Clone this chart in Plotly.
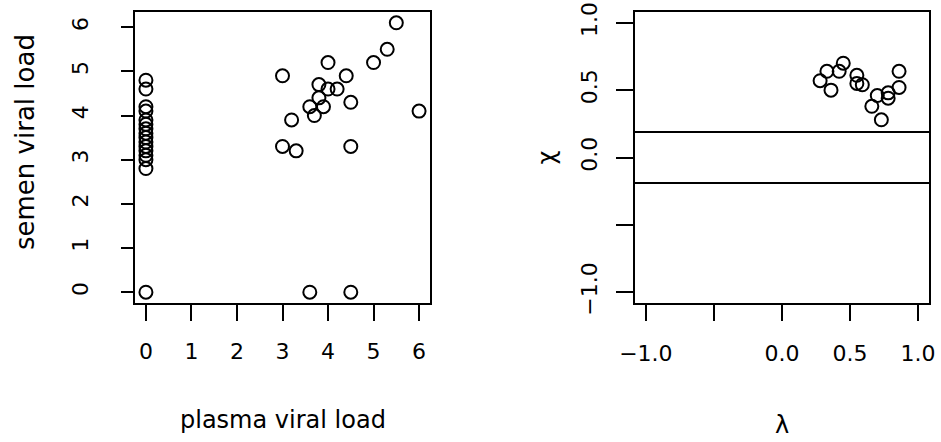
import plotly.graph_objects as go

# Left panel: plasma vs semen viral load (log10 copies)
plasma = [0, 0, 0, 0, 0, 0, 0, 0, 0, 0, 0, 0, 0, 0, 0, 0,
          5.5, 5.3, 5.0, 4.0, 3.0, 4.4, 3.8, 4.0, 4.2, 3.8, 4.5, 3.6, 3.9,
          3.7, 6.0, 3.2, 3.0, 3.3, 4.5, 3.6, 4.5]
semen = [4.8, 4.6, 4.2, 4.1, 3.9, 3.8, 3.7, 3.6, 3.5, 3.4, 3.3, 3.2, 3.1, 3.0, 2.8, 0.0,
         6.1, 5.5, 5.2, 5.2, 4.9, 4.9, 4.7, 4.6, 4.6, 4.4, 4.3, 4.2, 4.2,
         4.0, 4.1, 3.9, 3.3, 3.2, 3.3, 0.0, 0.0]

# Right panel: chi-plot (lambda, chi) with reference band
lam = [0.45, 0.33, 0.42, 0.28, 0.36, 0.55, 0.55, 0.59, 0.86, 0.86,
       0.70, 0.78, 0.78, 0.66, 0.73]
chi = [0.70, 0.64, 0.64, 0.57, 0.50, 0.61, 0.55, 0.54, 0.64, 0.52,
       0.46, 0.48, 0.44, 0.38, 0.28]
chi_band = [0.19, -0.19]

left_xticks = [0, 1, 2, 3, 4, 5, 6]
left_yticks = [0, 1, 2, 3, 4, 5, 6]
right_ticks = [-1.0, -0.5, 0.0, 0.5, 1.0]
right_ticktext = ["\u22121.0", "", "0.0", "0.5", "1.0"]

W, H = 941, 442
FONT = "DejaVu Sans, Liberation Sans, Arial, sans-serif"
TICK_SIZE = 22
TITLE_SIZE = 24


def px_x(p):
    return p / W


def px_y(p):
    return 1 - p / H


marker = dict(symbol="circle-open", size=13, color="black",
              line=dict(width=2, color="black"))

fig = go.Figure()
fig.add_trace(go.Scatter(x=plasma, y=semen, mode="markers", marker=marker,
                         xaxis="x", yaxis="y", showlegend=False))
fig.add_trace(go.Scatter(x=lam, y=chi, mode="markers", marker=marker,
                         xaxis="x2", yaxis="y2", showlegend=False))

for level in chi_band:
    fig.add_shape(type="line", xref="x2 domain", yref="y2",
                  x0=0, x1=1, y0=level, y1=level,
                  line=dict(color="black", width=2))

axis_common = dict(showline=True, mirror=True, linecolor="black", linewidth=2,
                   showgrid=False, zeroline=False, ticks="outside",
                   tickcolor="black", tickwidth=2, automargin=False,
                   tickfont=dict(family=FONT, size=TICK_SIZE, color="black"))

box_top, box_bot = 12, 303
ydom = [px_y(box_bot), px_y(box_top)]

fig.update_layout(
    width=W, height=H,
    margin=dict(l=0, r=0, t=0, b=0, autoexpand=False),
    paper_bgcolor="white", plot_bgcolor="white",
    xaxis=dict(domain=[px_x(135), px_x(430)], range=[-0.24, 6.24],
               tickvals=left_xticks, ticktext=[str(v) for v in left_xticks],
               ticklen=16, ticklabelstandoff=12, anchor="y", **axis_common),
    yaxis=dict(domain=ydom, range=[-0.244, 6.344],
               tickvals=left_yticks, ticktext=[str(v) for v in left_yticks],
               ticklen=12, tickangle=-90, ticklabelstandoff=24, anchor="x",
               **axis_common),
    xaxis2=dict(domain=[px_x(635), px_x(929)], range=[-1.08, 1.08],
                tickvals=right_ticks, ticktext=right_ticktext,
                ticklen=16, ticklabelstandoff=14, anchor="y2", **axis_common),
    yaxis2=dict(domain=ydom, range=[-1.08, 1.08],
                tickvals=right_ticks, ticktext=right_ticktext,
                ticklen=17, tickangle=-90, ticklabelstandoff=10, anchor="x2",
                **axis_common),
)

title_font = dict(family=FONT, size=TITLE_SIZE, color="black")
fig.add_annotation(text="plasma viral load", xref="paper", yref="paper",
                   x=px_x(282.5), y=px_y(420), xanchor="center", yanchor="middle",
                   showarrow=False, font=title_font)
fig.add_annotation(text="semen viral load", xref="paper", yref="paper",
                   x=px_x(25), y=px_y(142), xanchor="center", yanchor="middle",
                   textangle=-90, showarrow=False,
                   font=dict(family=FONT, size=26, color="black"))
fig.add_annotation(text="\u03bb", xref="paper", yref="paper",
                   x=px_x(782), y=px_y(425), xanchor="center", yanchor="middle",
                   showarrow=False, font=title_font)
fig.add_annotation(text="\u03c7", xref="paper", yref="paper",
                   x=px_x(546), y=px_y(157.5), xanchor="center", yanchor="middle",
                   textangle=-90, showarrow=False, font=title_font)

fig.write_html("out.html")
